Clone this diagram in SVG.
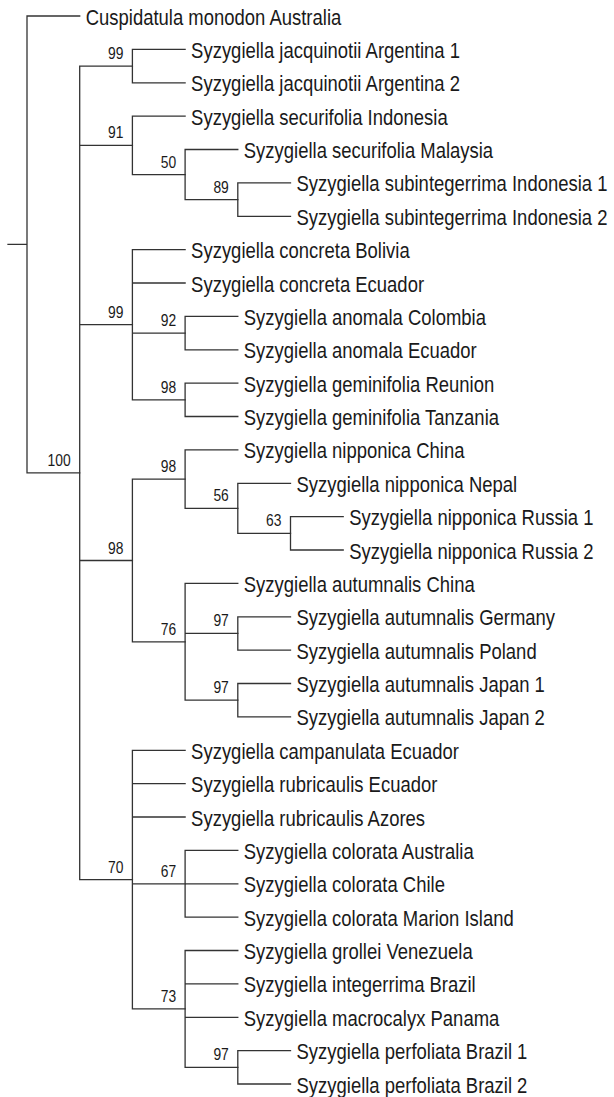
<svg xmlns="http://www.w3.org/2000/svg" width="614" height="1097" viewBox="0 0 614 1097">
<style>
text{font-family:"Liberation Sans",Arial,Helvetica,sans-serif;fill:#1a1a1a}
.leaf{font-size:22px}
.bs{font-size:16.5px;text-anchor:end}
.br{fill:none;stroke:#333;stroke-width:1.3;stroke-linecap:square}
</style>
<rect width="614" height="1097" fill="#fff"/>
<g id="connectors" class="br">
<path d="M8 244.4H27M27 16V472.9M27 16H79.7M27 472.9H79.7"/>
<path d="M79.7 66.1V879.6M79.7 66.1H132.4M79.7 145.3H132.4M79.7 324.7H132.4M79.7 560.5H132.4M79.7 879.6H132.4"/>
<path d="M132.4 49.4V82.8M132.4 49.4H185.1M132.4 82.8H185.1"/>
<path d="M132.4 116.1V174.6M132.4 116.1H185.1M132.4 174.6H185.1"/>
<path d="M185.1 149.5V199.6M185.1 149.5H237.8M185.1 199.6H237.8"/>
<path d="M237.8 182.9V216.3M237.8 182.9H290.5M237.8 216.3H290.5"/>
<path d="M132.4 249.6V399.8M132.4 249.6H185.1M132.4 283H185.1M132.4 333.1H185.1M132.4 399.8H185.1"/>
<path d="M185.1 316.4V349.8M185.1 316.4H237.8M185.1 349.8H237.8"/>
<path d="M185.1 383.1V416.5M185.1 383.1H237.8M185.1 416.5H237.8"/>
<path d="M132.4 479.1V641.8M132.4 479.1H185.1M132.4 641.8H185.1"/>
<path d="M185.1 449.9V508.3M185.1 449.9H237.8M185.1 508.3H237.8"/>
<path d="M237.8 483.3V533.3M237.8 483.3H290.5M237.8 533.3H290.5"/>
<path d="M290.5 516.6V550M290.5 516.6H343.2M290.5 550H343.2"/>
<path d="M185.1 583.4V700.2M185.1 583.4H237.8M185.1 633.4H237.8M185.1 700.2H237.8"/>
<path d="M237.8 616.8V650.1M237.8 616.8H290.5M237.8 650.1H290.5"/>
<path d="M237.8 683.5V716.9M237.8 683.5H290.5M237.8 716.9H290.5"/>
<path d="M132.4 750.3V1008.9M132.4 750.3H185.1M132.4 783.6H185.1M132.4 817H185.1M132.4 883.8H185.1M132.4 1008.9H185.1"/>
<path d="M185.1 850.4V917.1M185.1 850.4H237.8M185.1 883.8H237.8M185.1 917.1H237.8"/>
<path d="M185.1 950.5V1067.3M185.1 950.5H237.8M185.1 983.9H237.8M185.1 1017.3H237.8M185.1 1067.3H237.8"/>
<path d="M237.8 1050.6V1084M237.8 1050.6H290.5M237.8 1084H290.5"/>
</g>
<g id="leaves" class="leaf">
<g id="leaf-cuspidatula"><text transform="translate(85.7 24.5) scale(.84 1)">Cuspidatula monodon Australia</text></g>
<g id="leaf-jacq1"><text transform="translate(191.1 57.9) scale(.84 1)">Syzygiella jacquinotii Argentina 1</text></g>
<g id="leaf-jacq2"><text transform="translate(191.1 91.3) scale(.84 1)">Syzygiella jacquinotii Argentina 2</text></g>
<g id="leaf-secur-indo"><text transform="translate(191.1 124.6) scale(.84 1)">Syzygiella securifolia Indonesia</text></g>
<g id="leaf-secur-mal"><text transform="translate(243.8 158) scale(.84 1)">Syzygiella securifolia Malaysia</text></g>
<g id="leaf-subint1"><text transform="translate(296.5 191.4) scale(.84 1)">Syzygiella subintegerrima Indonesia 1</text></g>
<g id="leaf-subint2"><text transform="translate(296.5 224.8) scale(.84 1)">Syzygiella subintegerrima Indonesia 2</text></g>
<g id="leaf-concreta-bol"><text transform="translate(191.1 258.1) scale(.84 1)">Syzygiella concreta Bolivia</text></g>
<g id="leaf-concreta-ecu"><text transform="translate(191.1 291.5) scale(.84 1)">Syzygiella concreta Ecuador</text></g>
<g id="leaf-anomala-col"><text transform="translate(243.8 324.9) scale(.84 1)">Syzygiella anomala Colombia</text></g>
<g id="leaf-anomala-ecu"><text transform="translate(243.8 358.3) scale(.84 1)">Syzygiella anomala Ecuador</text></g>
<g id="leaf-gemin-reu"><text transform="translate(243.8 391.6) scale(.84 1)">Syzygiella geminifolia Reunion</text></g>
<g id="leaf-gemin-tan"><text transform="translate(243.8 425) scale(.84 1)">Syzygiella geminifolia Tanzania</text></g>
<g id="leaf-nipp-chi"><text transform="translate(243.8 458.4) scale(.84 1)">Syzygiella nipponica China</text></g>
<g id="leaf-nipp-nep"><text transform="translate(296.5 491.8) scale(.84 1)">Syzygiella nipponica Nepal</text></g>
<g id="leaf-nipp-rus1"><text transform="translate(349.2 525.1) scale(.84 1)">Syzygiella nipponica Russia 1</text></g>
<g id="leaf-nipp-rus2"><text transform="translate(349.2 558.5) scale(.84 1)">Syzygiella nipponica Russia 2</text></g>
<g id="leaf-aut-chi"><text transform="translate(243.8 591.9) scale(.84 1)">Syzygiella autumnalis China</text></g>
<g id="leaf-aut-ger"><text transform="translate(296.5 625.3) scale(.84 1)">Syzygiella autumnalis Germany</text></g>
<g id="leaf-aut-pol"><text transform="translate(296.5 658.6) scale(.84 1)">Syzygiella autumnalis Poland</text></g>
<g id="leaf-aut-jap1"><text transform="translate(296.5 692) scale(.84 1)">Syzygiella autumnalis Japan 1</text></g>
<g id="leaf-aut-jap2"><text transform="translate(296.5 725.4) scale(.84 1)">Syzygiella autumnalis Japan 2</text></g>
<g id="leaf-campan"><text transform="translate(191.1 758.8) scale(.84 1)">Syzygiella campanulata Ecuador</text></g>
<g id="leaf-rubric-ecu"><text transform="translate(191.1 792.1) scale(.84 1)">Syzygiella rubricaulis Ecuador</text></g>
<g id="leaf-rubric-azo"><text transform="translate(191.1 825.5) scale(.84 1)">Syzygiella rubricaulis Azores</text></g>
<g id="leaf-color-aus"><text transform="translate(243.8 858.9) scale(.84 1)">Syzygiella colorata Australia</text></g>
<g id="leaf-color-chi"><text transform="translate(243.8 892.3) scale(.84 1)">Syzygiella colorata Chile</text></g>
<g id="leaf-color-mar"><text transform="translate(243.8 925.6) scale(.84 1)">Syzygiella colorata Marion Island</text></g>
<g id="leaf-grollei"><text transform="translate(243.8 959) scale(.84 1)">Syzygiella grollei Venezuela</text></g>
<g id="leaf-integ"><text transform="translate(243.8 992.4) scale(.84 1)">Syzygiella integerrima Brazil</text></g>
<g id="leaf-macro"><text transform="translate(243.8 1025.8) scale(.84 1)">Syzygiella macrocalyx Panama</text></g>
<g id="leaf-perf1"><text transform="translate(296.5 1059.1) scale(.84 1)">Syzygiella perfoliata Brazil 1</text></g>
<g id="leaf-perf2"><text transform="translate(296.5 1092.5) scale(.84 1)">Syzygiella perfoliata Brazil 2</text></g>
</g>
<g id="support" class="bs">
<g id="n100"><text transform="translate(70.7 465.9) scale(.84 1)">100</text></g>
<g id="n99a"><text transform="translate(123.4 59.1) scale(.84 1)">99</text></g>
<g id="n91"><text transform="translate(123.4 138.3) scale(.84 1)">91</text></g>
<g id="n50"><text transform="translate(176.1 167.6) scale(.84 1)">50</text></g>
<g id="n89"><text transform="translate(228.8 192.6) scale(.84 1)">89</text></g>
<g id="n99b"><text transform="translate(123.4 317.7) scale(.84 1)">99</text></g>
<g id="n92"><text transform="translate(176.1 326.1) scale(.84 1)">92</text></g>
<g id="n98a"><text transform="translate(176.1 392.8) scale(.84 1)">98</text></g>
<g id="n98b"><text transform="translate(123.4 553.5) scale(.84 1)">98</text></g>
<g id="n98c"><text transform="translate(176.1 472.1) scale(.84 1)">98</text></g>
<g id="n56"><text transform="translate(228.8 501.3) scale(.84 1)">56</text></g>
<g id="n63"><text transform="translate(281.5 526.3) scale(.84 1)">63</text></g>
<g id="n76"><text transform="translate(176.1 634.8) scale(.84 1)">76</text></g>
<g id="n97a"><text transform="translate(228.8 626.4) scale(.84 1)">97</text></g>
<g id="n97b"><text transform="translate(228.8 693.2) scale(.84 1)">97</text></g>
<g id="n70"><text transform="translate(123.4 872.6) scale(.84 1)">70</text></g>
<g id="n67"><text transform="translate(176.1 876.8) scale(.84 1)">67</text></g>
<g id="n73"><text transform="translate(176.1 1001.9) scale(.84 1)">73</text></g>
<g id="n97c"><text transform="translate(228.8 1060.3) scale(.84 1)">97</text></g>
</g>
</svg>
